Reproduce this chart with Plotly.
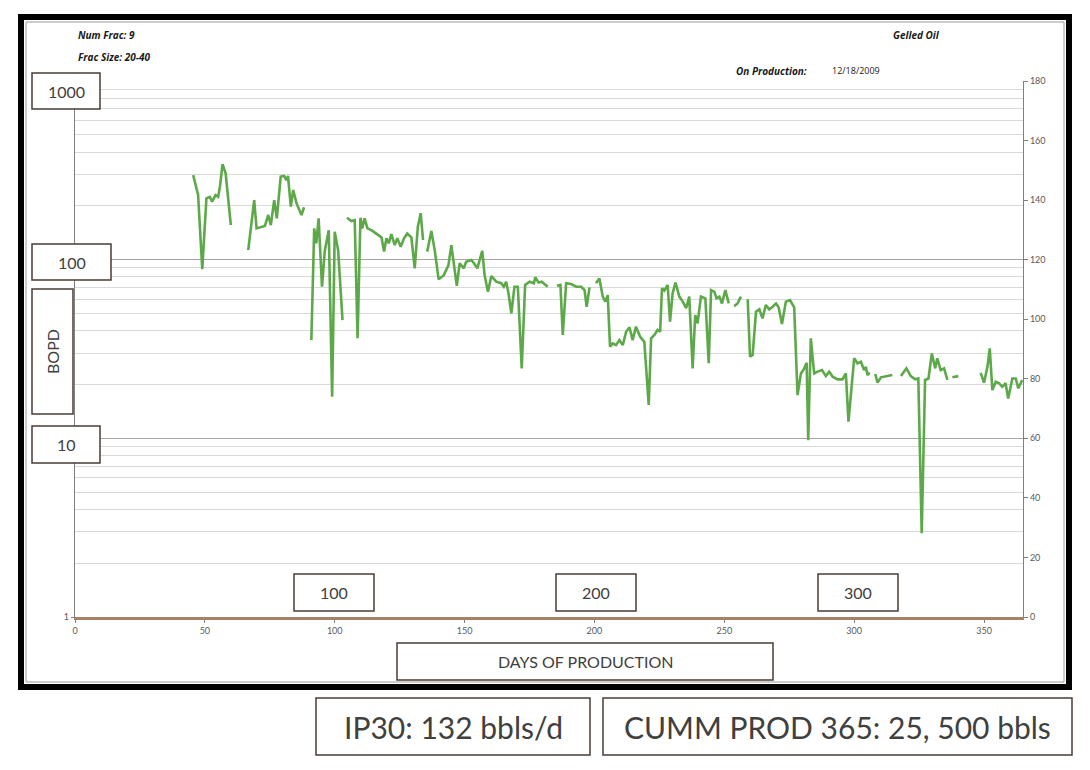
import plotly.graph_objects as go

# ---- data (days of production vs. oil rate, bbl/d on right linear axis) ----
days = [45.5, 47.4, 49.0, 50.6, 51.9, 52.8, 54.1, 55.1, 55.8, 56.8, 58.0, 60.0, None,
        66.7, 69.0, 69.9, 73.1, 74.4, 75.4, 76.7, 77.7, 79.2, 80.5, 81.4, 82.0, 83.1, 84.0, 85.3, 87.2, 88.2, None,
        91.0, 92.1, 92.9, 93.8, 95.1, 96.2, 97.7, 99.0, 100.0, 101.3, 103.0, None,
        104.7, 106.4, 107.7, 108.8, 109.9, 110.6, 111.5, 112.6, 114.1, 116.0, 118.0, 119.0, 119.9, 120.8,
        121.8, 123.1, 124.1, 125.4, 126.7, 127.9, 129.5, 130.8, 132.0, 133.1, 134.0, None,
        135.6, 137.2, 138.5, 140.0, 142.0, 143.8, 144.9, 145.9, 147.0, 148.1, 149.7, 150.6, 152.6, 153.6,
        154.9, 156.8, 157.7, 159.0, 160.3, 162.2, 164.1, 165.1, 166.0, 166.9, 168.0, 169.2, 170.5, 172.0,
        173.3, 175.0, 176.7, 177.2, 178.5, 179.7, 182.0, None,
        185.6, 186.9, 187.8, 189.1, 191.0, 193.0, 194.9, 196.2, 197.0, 198.1, None,
        200.6, 201.9, 203.2, 204.2, 205.1, 206.0, 207.0, 208.3, 209.6, 210.9, 212.2, 213.5, 214.7, 216.0,
        217.6, 219.2, 220.9, 221.8, 223.1, 224.3, 225.3, 226.0, 226.9, 228.2, 229.1, 230.1, 231.2, 232.7,
        234.0, 235.3, 236.5, 237.8, 238.8, 239.7, 241.0, 242.7, 244.0, 244.9, 246.2, 247.0, 248.1, 249.1,
        250.4, 251.7, None,
        253.8, 255.1, 256.4, None,
        259.0, 259.9, 260.9, 262.2, 263.5, 264.7, 266.0, 267.3, 268.6, 269.9, 270.9, 272.2, 273.7, 275.3,
        276.9, 278.2, 279.5, 280.8, 281.7, 282.3, 283.3, 284.6, 285.9, 287.6, 289.1, 290.4, 291.7, 293.6,
        295.5, 296.8, 297.8, 300.0, 301.3, 302.6, 303.8, 304.5, 305.1, 306.0, None,
        308.1, 309.0, 310.3, 312.2, 314.7, None,
        318.0, 320.1, 321.8, 323.5, 324.7, 326.0, 327.3, 328.6, 329.9, 331.2, 332.0, 333.3, 334.6, 335.9, None,
        337.8, 340.1, None,
        348.7, 350.0, 351.3, 352.2, 353.2, 354.5, 355.8, 357.0, 358.3, 359.3, 360.9, 362.2, 363.2, 364.7]

oil_rate = [148.4, 141.7, 116.8, 140.6, 141.1, 139.5, 141.7, 141.1, 144.5, 152.1, 149.0, 131.6, None,
            123.2, 140.0, 130.5, 131.3, 135.0, 131.6, 140.0, 133.9, 147.9, 148.1, 146.7, 148.1, 137.8, 143.4, 138.9, 135.0, 137.6, None,
            93.0, 130.5, 125.5, 133.9, 110.9, 123.2, 129.9, 74.0, 129.4, 123.2, 99.7, None,
            134.1, 133.0, 133.3, 93.6, 134.1, 130.5, 133.9, 130.5, 129.9, 128.8, 127.5, 122.7, 127.2, 125.5,
            128.6, 124.9, 127.2, 124.3, 127.2, 128.8, 127.5, 117.1, 131.1, 135.6, 126.6, None,
            122.7, 129.6, 123.2, 113.4, 114.8, 118.2, 124.9, 118.2, 111.2, 118.8, 117.1, 119.3, 119.9, 118.8,
            117.1, 123.0, 114.8, 109.2, 114.5, 112.6, 112.1, 110.9, 112.6, 108.7, 102.0, 110.9, 110.9, 83.5,
            111.5, 112.6, 112.1, 114.1, 112.3, 112.6, 110.9, None,
            111.2, 111.5, 94.7, 112.1, 111.8, 110.9, 110.9, 109.8, 104.2, 110.7, None,
            112.1, 113.7, 107.6, 105.9, 108.1, 90.8, 91.9, 91.3, 93.0, 91.3, 95.8, 97.3, 93.0, 97.5,
            94.1, 92.4, 71.2, 93.6, 94.7, 96.4, 95.8, 110.4, 109.6, 111.5, 99.2, 108.7, 112.3, 107.6,
            105.9, 103.7, 107.6, 83.5, 101.4, 98.6, 107.6, 107.0, 85.2, 109.8, 109.2, 107.0, 107.6, 105.3,
            109.8, 105.3, None,
            104.4, 105.3, 107.6, None,
            106.7, 87.4, 88.0, 102.5, 103.3, 100.3, 104.8, 103.3, 104.2, 105.3, 104.0, 98.4, 105.9, 106.4,
            104.0, 74.5, 81.8, 83.5, 85.4, 59.4, 93.6, 81.8, 82.4, 82.9, 80.9, 82.4, 80.7, 79.8,
            79.8, 81.8, 65.6, 86.9, 85.2, 85.7, 82.9, 84.0, 81.3, 82.0, None,
            81.6, 78.7, 80.5, 80.9, 81.3, None,
            80.9, 83.5, 80.9, 79.8, 80.1, 28.1, 79.6, 80.1, 88.5, 83.5, 86.9, 82.9, 83.5, 79.6, None,
            80.5, 80.9, None,
            82.0, 78.7, 84.0, 90.2, 76.2, 79.0, 78.5, 77.3, 78.5, 73.4, 80.1, 80.1, 76.8, 79.6]

x_ticks = [0, 50, 100, 150, 200, 250, 300, 350]
right_ticks = [0, 20, 40, 60, 80, 100, 120, 140, 160, 180]
log_major = [1, 10, 100, 1000]
log_minor = [2, 3, 4, 5, 6, 7, 8, 9, 20, 30, 40, 50, 60, 70, 80, 90, 200, 300, 400, 500, 600, 700, 800, 900]
log_box_labels = ["1000", "100", "10"]
x_box_labels = ["100", "200", "300"]

# ---- geometry (page pixels; the page body adds an 8px offset) ----
OFF = 8
W, H = 1090 - OFF, 770 - OFF
L, R, T, B = 75 - OFF, 1023 - OFF, 81 - OFF, 617 - OFF
def px(x):
    return (x - OFF - L) / (R - L)
def py(y):
    return (B - (y - OFF)) / (B - T)

FONT = "Lato, 'Open Sans', sans-serif"

fig = go.Figure()
fig.add_trace(go.Scatter(x=days, y=oil_rate, mode="lines", yaxis="y2",
                         line=dict(color="#5DA94A", width=2.6), connectgaps=False,
                         showlegend=False, hoverinfo="x+y"))
# invisible trace to activate log axis
fig.add_trace(go.Scatter(x=[0, 365], y=[1, 1000], mode="markers", marker=dict(opacity=0),
                         showlegend=False, hoverinfo="skip"))

fig.update_layout(
    width=W, height=H,
    margin=dict(l=L, r=W - R, t=T, b=H - B),
    paper_bgcolor="white", plot_bgcolor="white",
    font=dict(family=FONT, color="#595959"),
    xaxis=dict(range=[0, 365], tickvals=x_ticks, ticks="outside", ticklen=3, tickcolor="#808080",
               tickfont=dict(size=9, color="#595959"), showgrid=False, zeroline=False,
               showline=True, linecolor="#A88363", linewidth=3),
    yaxis=dict(type="log", range=[0, 3], tickvals=log_major, ticktext=["1", "", "", ""],
               ticks="outside", ticklen=3, tickcolor="#808080",
               tickfont=dict(size=9, color="#595959"),
               showgrid=True, gridcolor="#A6A6A6", gridwidth=1,
               minor=dict(tickvals=log_minor, showgrid=True, gridcolor="#D9D9D9", gridwidth=1.4),
               showline=True, linecolor="#808080", linewidth=1.2, mirror=False, zeroline=False),
    yaxis2=dict(overlaying="y", side="right", range=[0, 180], tickvals=right_ticks,
                ticks="outside", ticklen=4, tickcolor="#808080",
                tickfont=dict(size=9, color="#595959"), showgrid=False, zeroline=False,
                showline=True, linecolor="#808080", linewidth=1.2),
)

shapes = []
annots = []

def box(x0, y0, x1, y1, text, size=16, angle=0):
    shapes.append(dict(type="rect", xref="paper", yref="paper", x0=px(x0), x1=px(x1),
                       y0=py(y1), y1=py(y0), fillcolor="white",
                       line=dict(color="#4A3C36", width=1.5), layer="above"))
    annots.append(dict(xref="paper", yref="paper", x=px((x0 + x1) / 2), y=py((y0 + y1) / 2),
                       text=text, showarrow=False, textangle=angle,
                       font=dict(size=size, color="#404040", family=FONT),
                       xanchor="center", yanchor="middle"))

# outer black frame
shapes.append(dict(type="rect", xref="paper", yref="paper", x0=px(21), x1=px(1069),
                   y0=py(687), y1=py(17), line=dict(color="black", width=6), layer="above"))
shapes.append(dict(type="rect", xref="paper", yref="paper", x0=px(26), x1=px(1064),
                   y0=py(682), y1=py(22), line=dict(color="#9A9A9A", width=1), layer="above"))

# y-axis value boxes
box(32, 73, 100, 109, log_box_labels[0])
box(32, 244, 111, 280, log_box_labels[1])
box(32, 289, 73, 414, "BOPD", angle=-90)
box(32, 426, 100, 463, log_box_labels[2])
# x-axis value boxes
box(294, 574, 374, 611, x_box_labels[0])
box(556, 574, 636, 611, x_box_labels[1])
box(818, 574, 898, 611, x_box_labels[2])
box(397, 643, 773, 680, "DAYS OF PRODUCTION", size=16)
# summary boxes
box(316, 698, 590, 755, "IP30: 132 bbls/d", size=30)
box(603, 698, 1072, 755, "CUMM PROD 365: 25, 500 bbls", size=30)

def label(x, y, text, size=10, bold=True, italic=True, anchor="left"):
    t = text
    if italic:
        t = "<i>" + t + "</i>"
    if bold:
        t = "<b>" + t + "</b>"
    annots.append(dict(xref="paper", yref="paper", x=px(x), y=py(y), text=t, showarrow=False,
                       xanchor=anchor, yanchor="middle",
                       font=dict(size=size, color="#1A1A1A", family="'Open Sans', sans-serif")))

label(76, 35, "Num Frac: 9")
label(76, 57, "Frac Size: 20-40")
label(891, 35, "Gelled Oil")
label(734, 71, "On Production:")
label(830, 71, "12/18/2009", size=9, bold=False, italic=False)

fig.update_layout(shapes=shapes, annotations=annots)
fig.write_html("out.html")
